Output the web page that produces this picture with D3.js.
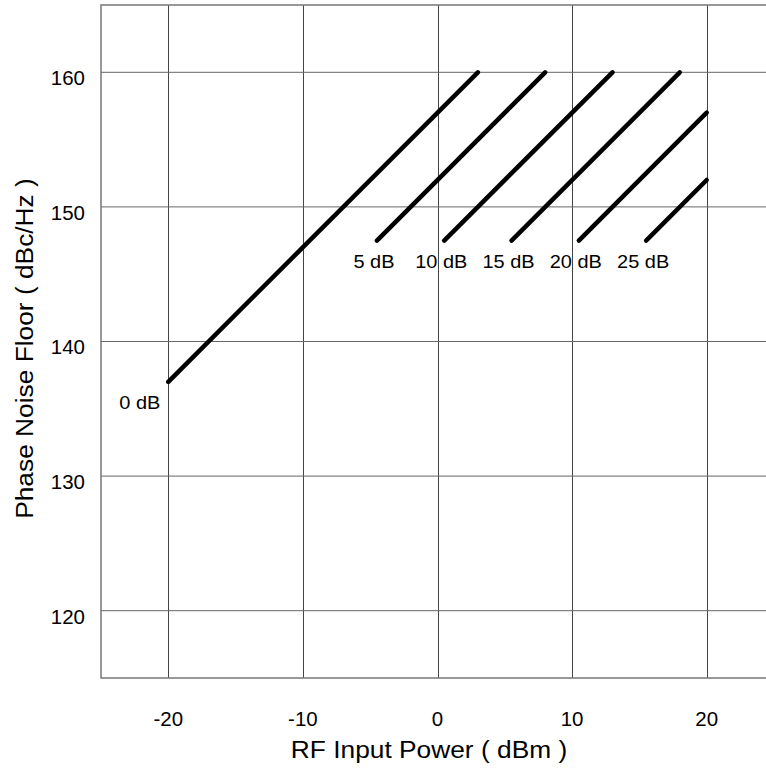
<!DOCTYPE html>
<html>
<head>
<meta charset="utf-8">
<script src="https://cdn.jsdelivr.net/npm/d3@7"></script>
<style>
  body { margin: 0; background: #fff; }
  text { font-family: "Liberation Sans", Arial, Helvetica, sans-serif; fill: #000; }
</style>
</head>
<body>
<div id="chart"></div>
<script>
// attenuation curves, endpoints
const attenLabels = ['0 dB', '5 dB', '10 dB', '15 dB', '20 dB', '25 dB']
const xStart = [-20, -4.5, 0.5, 5.5, 10.5, 15.5]
const yStart = [137, 147.5, 147.5, 147.5, 147.5, 147.5]
const xEnd = [3, 8, 13, 18, 20, 20]
const yEnd = [160, 160, 160, 160, 157, 152]

const xTicks = [-20, -10, 0, 10, 20]
const yTicks = [120, 130, 140, 150, 160]

const width = 766
const height = 774
const stretch = 1.05 // small text in the reference is a bit wide
const titleStretch = 1.12

const xScale = d3.scaleLinear().domain([-25, 25]).range([101, 774])
const yScale = d3.scaleLinear().domain([115, 165]).range([678, 5])

const svg = d3.select('#chart').append('svg')
  .attr('width', width)
  .attr('height', height)

// grid
svg.selectAll('line.vgrid')
  .data(xTicks)
  .enter().append('line')
  .attr('class', 'vgrid')
  .attr('x1', d => Math.round(xScale(d)) + 0.5)
  .attr('x2', d => Math.round(xScale(d)) + 0.5)
  .attr('y1', yScale(165))
  .attr('y2', yScale(115))
  .attr('stroke', '#444')
  .attr('stroke-width', 1)

svg.selectAll('line.hgrid')
  .data(yTicks)
  .enter().append('line')
  .attr('class', 'hgrid')
  .attr('x1', xScale(-25))
  .attr('x2', xScale(25))
  .attr('y1', d => yScale(d))
  .attr('y2', d => yScale(d))
  .attr('stroke', '#666')
  .attr('stroke-width', 1)

// frame (right edge falls outside the window)
svg.append('rect')
  .attr('x', xScale(-25))
  .attr('y', yScale(165))
  .attr('width', xScale(25) - xScale(-25))
  .attr('height', yScale(115) - yScale(165))
  .attr('fill', 'none')
  .attr('stroke', '#777')
  .attr('stroke-width', 1.5)

// tick labels
svg.selectAll('text.xtick')
  .data(xTicks)
  .enter().append('text')
  .attr('class', 'xtick')
  .attr('transform', d => `translate(${xScale(d)},726) scale(${stretch},1)`)
  .attr('text-anchor', 'middle')
  .style('font-size', '19.5px')
  .text(d => d)

svg.selectAll('text.ytick')
  .data(yTicks)
  .enter().append('text')
  .attr('class', 'ytick')
  .attr('transform', d => `translate(85,${yScale(d) + 12.8}) scale(${stretch},1)`)
  .attr('text-anchor', 'end')
  .style('font-size', '19.5px')
  .text(d => d)

// axis titles
svg.append('text')
  .attr('transform', `translate(429,757.5) scale(${titleStretch},1)`)
  .attr('text-anchor', 'middle')
  .style('font-size', '23.5px')
  .text('RF Input Power ( dBm )')

svg.append('text')
  .attr('transform', `translate(33,348.5) rotate(-90) scale(${titleStretch},1)`)
  .attr('text-anchor', 'middle')
  .style('font-size', '23.5px')
  .text('Phase Noise Floor ( dBc/Hz )')

// curves
const curves = attenLabels.map((label, i) => ({
  label: label,
  x0: xStart[i], y0: yStart[i], x1: xEnd[i], y1: yEnd[i]
}))

svg.selectAll('line.curve')
  .data(curves)
  .enter().append('line')
  .attr('class', 'curve')
  .attr('x1', d => xScale(d.x0))
  .attr('y1', d => yScale(d.y0))
  .attr('x2', d => xScale(d.x1))
  .attr('y2', d => yScale(d.y1))
  .attr('stroke', '#000')
  .attr('stroke-width', 4.5)
  .attr('stroke-linecap', 'round')

// curve labels; first one sits left of its start, others below
svg.selectAll('text.curvelabel')
  .data(curves)
  .enter().append('text')
  .attr('class', 'curvelabel')
  .attr('transform', (d, i) => {
    const x = i == 0 ? xScale(d.x0) - 8 : xScale(d.x0) - 3
    return `translate(${x},${yScale(d.y0) + 27.5}) scale(${stretch},1)`
  })
  .attr('text-anchor', (d, i) => i == 0 ? 'end' : 'middle')
  .style('font-size', '19px')
  .text(d => d.label)
</script>
</body>
</html>
